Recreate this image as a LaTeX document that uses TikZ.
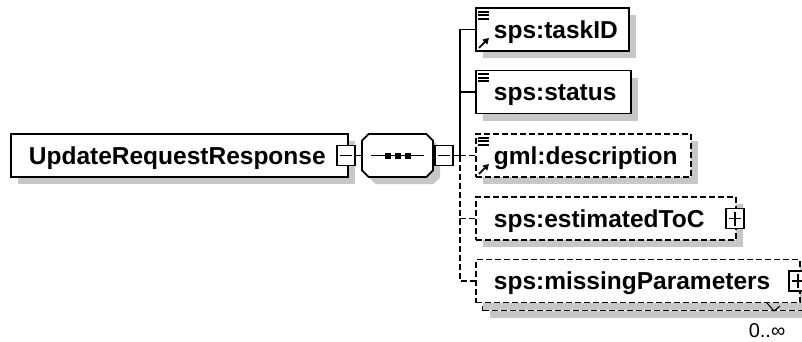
\documentclass[tikz,border=0pt]{standalone}
\usepackage{fontspec}
\setmainfont{Liberation Sans}
\usetikzlibrary{shapes.misc,shadows,arrows.meta,positioning}

\tikzset{
  shade/.style={drop shadow={shadow xshift=7pt, shadow yshift=-7pt, fill=black!22, opacity=1}},
  elem/.style={draw, line width=1.8pt, fill=white, anchor=west, align=left,
    text width=#1, inner xsep=18pt, inner ysep=0pt, minimum height=43pt,
    text height=17.5pt, text depth=0pt, shade,
    font=\fontsize{24.5}{28}\selectfont\bfseries},
  optional/.style={dash pattern=on 6pt off 3pt},
  link/.style={line width=1.5pt},
  toggle/.style={draw, fill=white, line width=1.6pt, minimum width=18pt,
    minimum height=20pt, inner sep=0pt},
  minus/.style={toggle, path picture={
    \draw[line width=1.5pt] ([xshift=3pt]path picture bounding box.west)
      -- ([xshift=-3pt]path picture bounding box.east);}},
  plus/.style={toggle, path picture={
    \draw[line width=1.5pt] ([xshift=3pt]path picture bounding box.west)
      -- ([xshift=-3pt]path picture bounding box.east);
    \draw[line width=1.5pt] ([yshift=-3pt]path picture bounding box.north)
      -- ([yshift=3pt]path picture bounding box.south);}},
  icon/.style={line width=1.8pt}
}

\begin{document}
\begin{tikzpicture}[x=1pt, y=-1pt]
  \clip (0,0) rectangle (802,341);

  % root element and sequence
  \node[elem=301pt] (main) at (10,155.5) {UpdateRequestResponse};
  \node[minus] (mainToggle) at ([xshift=-3pt]main.east) {};
  \node[chamfered rectangle, chamfered rectangle sep=9pt, draw, fill=white,
        line width=1.8pt, minimum width=71pt, minimum height=43pt, shade]
        (seq) at (397.5,155.5) {};
  \draw[line width=1.5pt] ([xshift=10pt]seq.west) -- ([xshift=-10pt]seq.east);
  \foreach \dx in {-10,0,10}
    \fill ([xshift=\dx pt]seq.center) +(-3pt,-3pt) rectangle +(3pt,3pt);
  \node[minus, anchor=west] (seqToggle) at (seq.east) {};

  % children
  \node[elem=117pt] (taskID) at (475,29.5) {sps:taskID};
  \node[elem=119pt] (status) at (475,92) {sps:status};
  \node[elem=179pt, optional] (descr) at (475,155.5) {gml:description};
  \node[elem=224pt, optional] (estToC) at (475,218.5) {sps:estimatedToC};
  \node[minus, plus] (estToggle) at ([xshift=-2pt]estToC.east) {};
  \node[elem=288pt, optional] (missBack) at (482,289) {};
  \node[elem=288pt, optional] (missPar) at (475,281) {sps:missingParameters};
  \node[minus, plus] (missToggle) at ([xshift=-3pt]missPar.east) {};
  \node[font=\fontsize{20}{24}\selectfont] (missCard) at (767,331) {0..∞};
  \draw[line width=1pt] (767,303) -- (774,311) -- (780,306);

  % element icons
  \foreach \n in {taskID,status,descr}
    \foreach \dy in {4.5,8,11.5}
      \draw[icon] ([shift={(3pt,-\dy pt)}]\n.north west) -- ++(11pt,0pt);
  \foreach \n in {taskID,descr}
    \draw[icon, -{Triangle[length=6pt,width=6.5pt]}]
      ([shift={(4pt,4pt)}]\n.south west) -- ++(10pt,10pt);

  % connectors
  \coordinate (trunk) at (460,155.5);
  \draw[link] (mainToggle.east) -- (seq.west);
  \draw[link] (seqToggle.east) -- (trunk);
  \draw[link] (trunk) |- (taskID.west);
  \draw[link] (trunk) |- (status.west);
  \draw[link, optional] (trunk) -- (descr.west);
  \draw[link, optional] (trunk) |- (estToC.west);
  \draw[link, optional] (trunk) |- (missPar.west);
\end{tikzpicture}
\end{document}
